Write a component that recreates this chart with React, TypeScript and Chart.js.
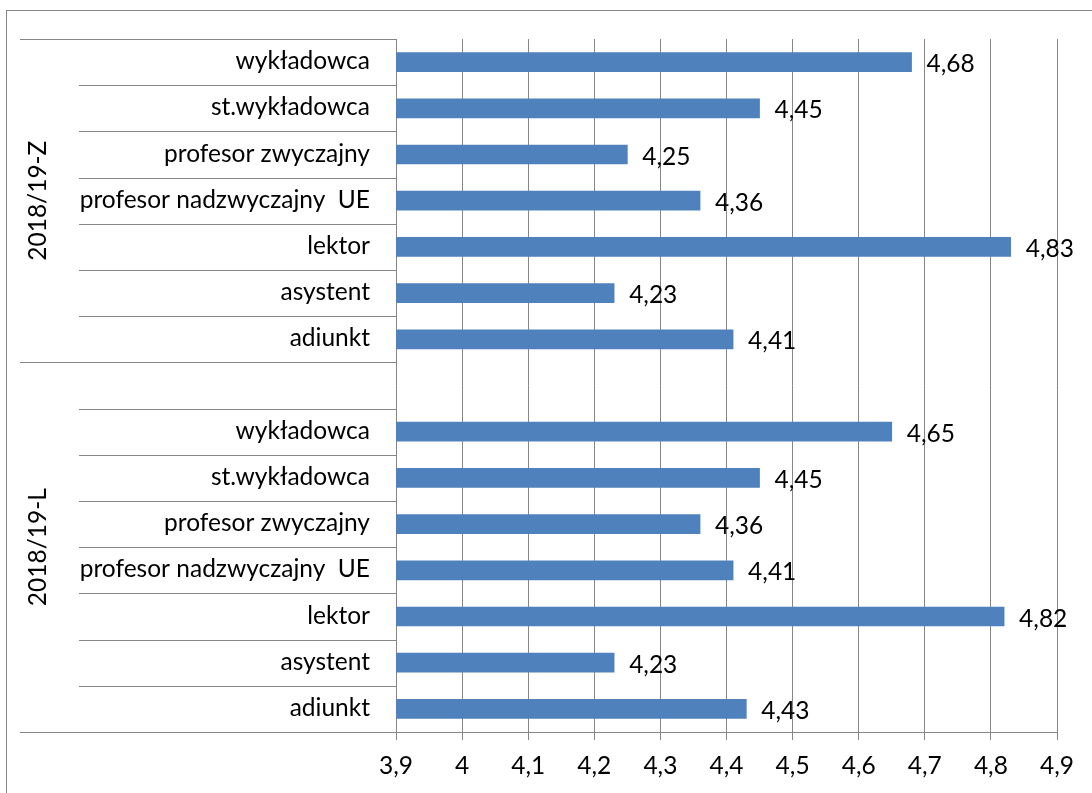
import React, { useEffect, useRef } from 'react';
import { Chart, registerables } from 'chart.js';

Chart.register(...registerables);

const CATEGORIES = [
  'wykładowca',
  'st.wykładowca',
  'profesor zwyczajny',
  'profesor nadzwyczajny  UE',
  'lektor',
  'asystent',
  'adiunkt',
];
const GROUPS = ['2018/19-Z', '2018/19-L'];
const VALUES_Z = [4.68, 4.45, 4.25, 4.36, 4.83, 4.23, 4.41];
const VALUES_L = [4.65, 4.45, 4.36, 4.41, 4.82, 4.23, 4.43];
const X_TICKS = [3.9, 4.0, 4.1, 4.2, 4.3, 4.4, 4.5, 4.6, 4.7, 4.8, 4.9];

const ROW_LABELS = [...CATEGORIES, '', ...CATEGORIES];
const ROW_VALUES: (number | null)[] = [...VALUES_Z, null, ...VALUES_L];
// group spans in row indices [start, endExclusive]
const GROUP_SPANS: [number, number][] = [
  [0, VALUES_Z.length],
  [VALUES_Z.length, ROW_LABELS.length],
];

const FONT_SIZE = 24.5;
const FONT = `${FONT_SIZE}px Lato`;
const GRID = '#868686';

const fmt = (v: number, digits: number) => {
  const r = Math.round(v * Math.pow(10, digits)) / Math.pow(10, digits);
  return String(r).replace('.', ',');
};

const leftPlugin = {
  id: 'multiLevelCategory',
  afterDraw(chart: any) {
    const { ctx, chartArea, scales } = chart;
    const ys = scales.y;
    const n = ROW_LABELS.length;
    const top = chartArea.top;
    const bottom = chartArea.bottom;
    const left = chartArea.left;
    const boundary = (k: number) =>
      k === 0 ? top : k === n ? bottom : (ys.getPixelForValue(k - 1) + ys.getPixelForValue(k)) / 2;
    const groupStarts = new Set<number>();
    GROUP_SPANS.forEach(([s, e]) => {
      groupStarts.add(s);
      groupStarts.add(e);
    });

    ctx.save();
    ctx.strokeStyle = GRID;
    ctx.lineWidth = 1;
    for (let k = 0; k <= n; k++) {
      const yy = Math.round(boundary(k)) + 0.5;
      const x0 = groupStarts.has(k) ? 20 : 79;
      ctx.beginPath();
      ctx.moveTo(x0, yy);
      ctx.lineTo(left, yy);
      ctx.stroke();
    }

    // category labels
    ctx.fillStyle = '#000';
    ctx.font = FONT;
    ctx.textAlign = 'right';
    ctx.textBaseline = 'alphabetic';
    ROW_LABELS.forEach((l, i) => {
      if (!l) return;
      ctx.fillText(l, left - 26, ys.getPixelForValue(i) + 7);
    });

    // group labels (rotated)
    GROUPS.forEach((g, gi) => {
      const [s, e] = GROUP_SPANS[gi];
      const cy = (boundary(s) + boundary(e)) / 2;
      ctx.save();
      ctx.translate(46, cy);
      ctx.rotate(-Math.PI / 2);
      ctx.textAlign = 'center';
      ctx.textBaseline = 'alphabetic';
      ctx.fillText(g, 0, 0);
      ctx.restore();
    });

    // data labels
    const meta = chart.getDatasetMeta(0);
    ctx.textAlign = 'left';
    meta.data.forEach((bar: any, i: number) => {
      const v = ROW_VALUES[i];
      if (v == null) return;
      ctx.fillText(fmt(v, 2), bar.x + 15, bar.y + 10);
    });

    // outer frame
    ctx.strokeStyle = GRID;
    ctx.strokeRect(6.5, 10.5, 1200, 1200);
    ctx.restore();
  },
};

export default function App() {
  const ref = useRef<HTMLCanvasElement | null>(null);
  useEffect(() => {
    if (!ref.current) return;
    const chart = new Chart(ref.current, {
      type: 'bar',
      data: {
        labels: ROW_LABELS,
        datasets: [
          {
            data: ROW_VALUES as any,
            backgroundColor: '#4F81BD',
            borderWidth: 0,
            barThickness: 19,
          },
        ],
      },
      options: {
        indexAxis: 'y',
        animation: false,
        responsive: false,
        devicePixelRatio: 1,
        layout: { padding: { left: 396, top: 39, right: 35, bottom: 0 } },
        plugins: { legend: { display: false }, tooltip: { enabled: false } },
        scales: {
          y: { display: false, offset: true },
          x: {
            min: 3.9,
            max: 4.9,
            afterBuildTicks: (s: any) => {
              s.ticks = X_TICKS.map((v) => ({ value: v }));
            },
            afterFit: (s: any) => {
              s.height = 61;
            },
            grid: { color: GRID, lineWidth: 1, drawTicks: true, tickLength: 8, tickColor: GRID },
            border: { display: true, color: GRID, width: 1 },
            ticks: {
              font: { family: 'Lato', size: FONT_SIZE },
              color: '#000',
              padding: 11,
              maxRotation: 0,
              autoSkip: false,
              callback: (v: any) => fmt(Number(v), 1),
            },
          },
        },
      },
      plugins: [leftPlugin],
    });
    return () => chart.destroy();
  }, []);
  return (
    <div style={{ position: 'absolute', left: 0, top: 0, width: 1092, height: 793, background: '#fff' }}>
      <canvas ref={ref} width={1092} height={793} style={{ display: 'block' }} />
    </div>
  );
}
